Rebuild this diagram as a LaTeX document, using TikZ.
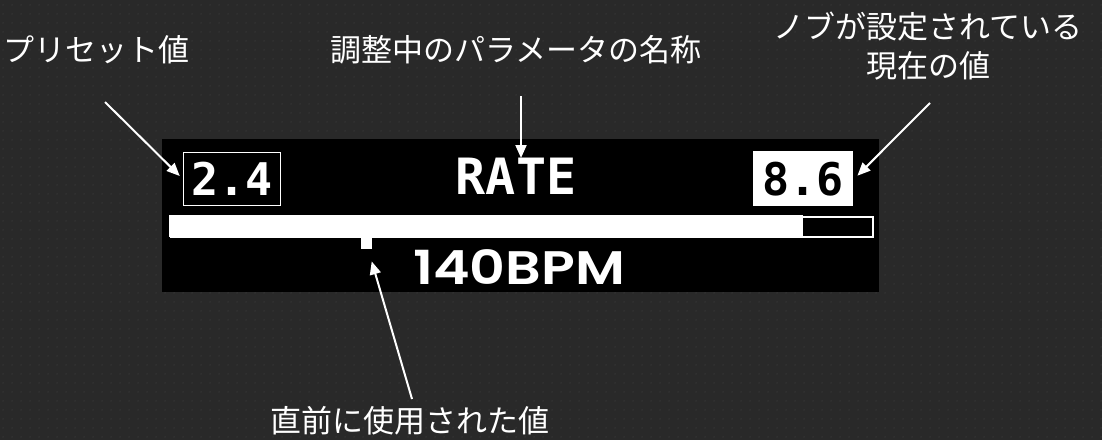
\documentclass[tikz,border=0pt]{standalone}
\usepackage{fontspec}
\usetikzlibrary{arrows.meta,patterns.meta}
\newfontfamily\jp{Noto Sans CJK JP}
\newfontfamily\pix{DejaVu Sans Mono}
\newfontfamily\bpmfont{Poppins}[UprightFont=* SemiBold]
\definecolor{bg}{HTML}{292929}
\definecolor{bgdot}{HTML}{333333}
\tikzdeclarepattern{name=bgdots,type=uncolored,bounding box={(0pt,0pt) and (9pt,9pt)},tile size={(9pt,9pt)},code={\fill (4.5pt,4.5pt) circle (1pt);}}
\tikzset{
  lbl/.style={text=white,font=\jp\fontsize{31}{39}\selectfont,inner sep=0pt,align=center},
  pixtext/.style={font=\pix\bfseries\fontsize{#1}{#1}\selectfont,inner sep=0pt},
  arr/.style={draw=white,line width=2pt,-{Triangle[length=13pt,width=11pt]}},
}
\begin{document}
\begin{tikzpicture}[x=1pt,y=-1pt]
\useasboundingbox (0,0) rectangle (1102,440);
\fill[bg] (0,0) rectangle (1102,440);
\fill[pattern={bgdots},pattern color=bgdot] (0,0) rectangle (1102,440);
% screen
\node[fill=black,minimum width=717pt,minimum height=153pt,inner sep=0pt,anchor=north west] (screen) at (162,139) {};
% preset box
\node[draw=white,line width=1.5pt,minimum width=97pt,minimum height=53pt,inner sep=0pt,anchor=north west] (preset) at (182.75,151.75) {};
\node[pixtext=45,text=white] (presetval) at (preset.center) {2.4};
% current box
\node[fill=white,minimum width=100pt,minimum height=55pt,inner sep=0pt,anchor=north west] (current) at (753,151) {};
\node[pixtext=45,text=black] (currentval) at (current.center) {8.6};
% name
\node[pixtext=50,text=white,anchor=north] (rate) at (516,158) {RATE};
% bar
\node[draw=white,line width=2pt,fill=black,minimum width=702pt,minimum height=20pt,inner sep=0pt,anchor=north west] (bar) at (170,216) {};
\fill[white] (bar.north west) ++(-1,-1) rectangle (803,237);
% last used marker
\node[fill=white,minimum size=11pt,inner sep=0pt,anchor=north west] (marker) at (361,238) {};
% bpm
\node[font=\bpmfont\fontsize{47}{47}\selectfont,text=white,inner sep=0pt] (bpm) at (519,267) {\scalebox{1.18}[1]{140BPM}};
% labels
\node[lbl] (lpreset) at (96,50) {プリセット値};
\node[lbl] (lname) at (516,50) {調整中のパラメータの名称};
\node[lbl] (lcur) at (928,46) {ノブが設定されている\\現在の値};
\node[lbl] (lused) at (410,421) {直前に使用された値};
% arrow start points
\coordinate (s1) at (105,102);
\coordinate (s2) at (521,96);
\coordinate (s3) at (930,103);
\coordinate (s4) at (412,399);
\draw[arr] (s1) -- ([xshift=-3pt,yshift=3pt]preset.west);
\draw[arr] (s2) -- (s2 |- rate.north);
\draw[arr] (s3) -- ([xshift=4pt,yshift=3pt]current.east);
\draw[arr] (s4) -- ([yshift=-12pt,xshift=5pt]marker.south);
\end{tikzpicture}
\end{document}
